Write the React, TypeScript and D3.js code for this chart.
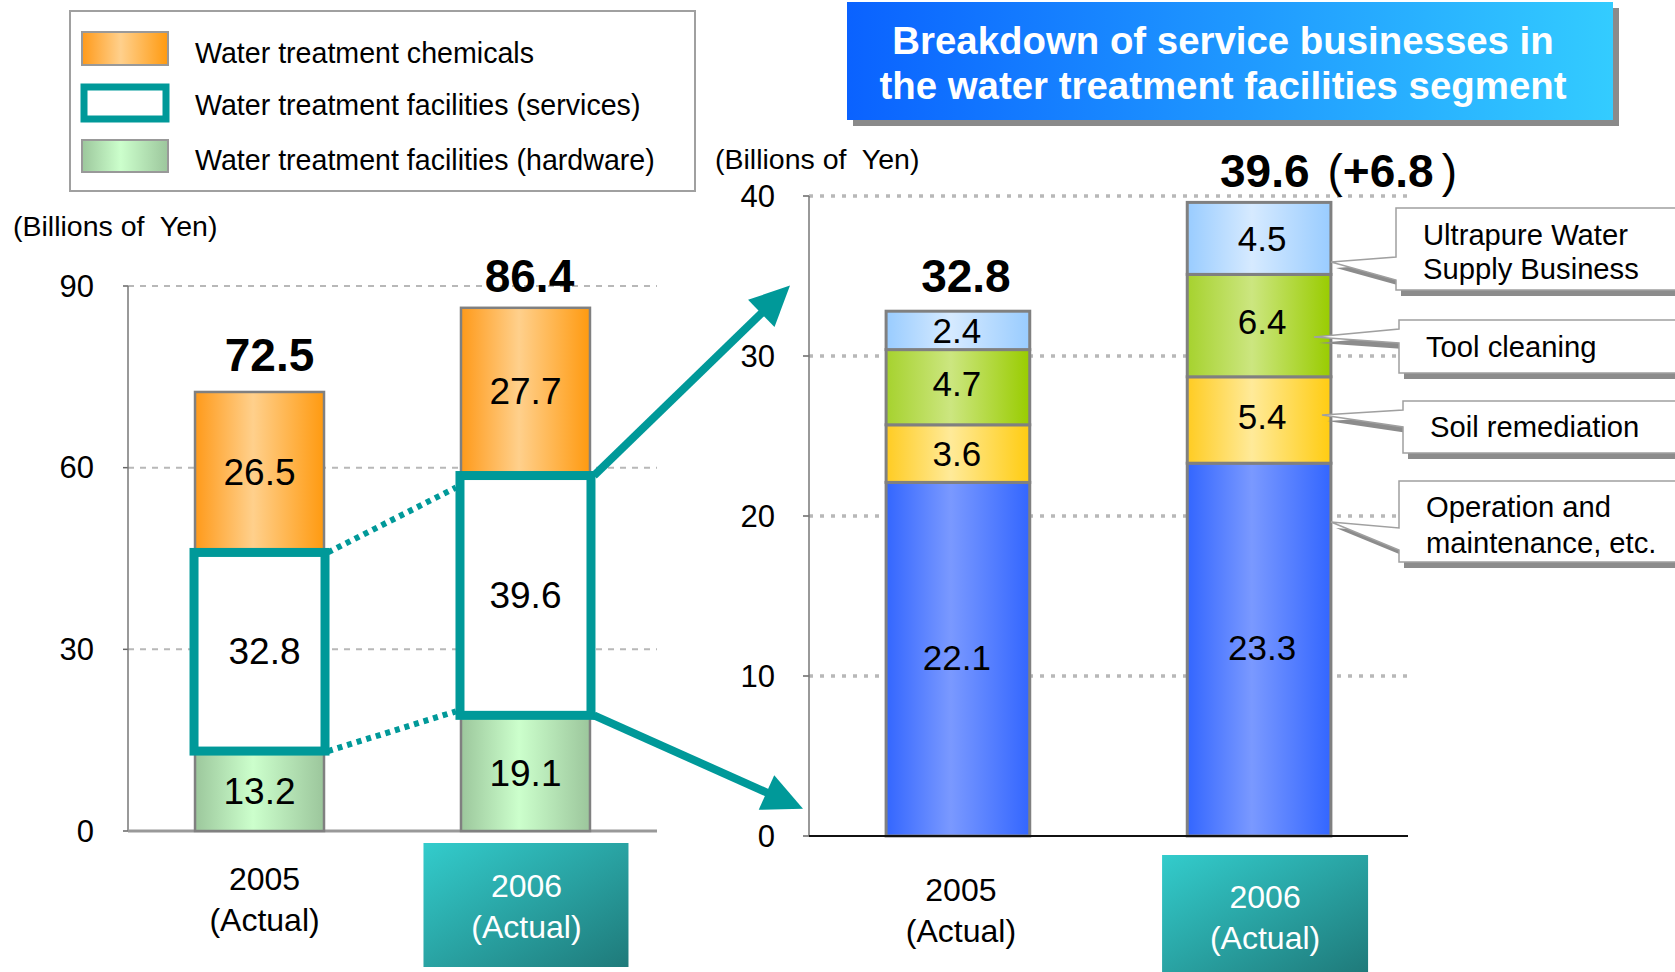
import * as d3 from "d3";

const years = ["2005", "2006"];
const yearNote = "(Actual)";

// left chart: water treatment segments
const hardware = [13.2, 19.1];
const services = [32.8, 39.6];
const chemicals = [26.5, 27.7];
const leftTicks = [0, 30, 60, 90];
const legendLabels = [
  "Water treatment chemicals",
  "Water treatment facilities (services)",
  "Water treatment facilities (hardware)",
];

// right chart: service businesses breakdown
const operation = [22.1, 23.3];
const soil = [3.6, 5.4];
const tool = [4.7, 6.4];
const ultrapure = [2.4, 4.5];
const rightTicks = [0, 10, 20, 30, 40];
const increase = "+6.8";
const calloutLabels = [
  ["Ultrapure Water", "Supply Business"],
  ["Tool cleaning"],
  ["Soil remediation"],
  ["Operation and", "maintenance, etc."],
];
const titleLines = [
  "Breakdown of service businesses in",
  "the water treatment facilities segment",
];
const unitLabel = "(Billions of  Yen)";

const FONT = "'Liberation Sans', Arial, sans-serif";
const TEAL = "#009999";

const leftTable = years.map((y, i) => ({
  year: y,
  hardware: hardware[i],
  services: services[i],
  chemicals: chemicals[i],
}));
const leftKeys = ["hardware", "services", "chemicals"];
const leftFill: Record<string, string> = {
  hardware: "url(#gHard)",
  services: "#ffffff",
  chemicals: "url(#gChem)",
};

const rightTable = years.map((y, i) => ({
  year: y,
  operation: operation[i],
  soil: soil[i],
  tool: tool[i],
  ultrapure: ultrapure[i],
}));
const rightKeys = ["operation", "soil", "tool", "ultrapure"];
const rightFill: Record<string, string> = {
  operation: "url(#gOper)",
  soil: "url(#gSoil)",
  tool: "url(#gTool)",
  ultrapure: "url(#gUltra)",
};

function Grad({ id, edge, mid, edge2 }: { id: string; edge: string; mid: string; edge2?: string }) {
  return (
    <linearGradient id={id} x1="0" y1="0" x2="1" y2="0">
      <stop offset="0" stopColor={edge} />
      <stop offset="0.45" stopColor={mid} />
      <stop offset="1" stopColor={edge2 || edge} />
    </linearGradient>
  );
}

function arrowShape(x1: number, y1: number, x2: number, y2: number) {
  const len = Math.hypot(x2 - x1, y2 - y1);
  const ux = (x2 - x1) / len;
  const uy = (y2 - y1) / len;
  const head = 40;
  const half = 19;
  const bx = x2 - ux * head;
  const by = y2 - uy * head;
  return {
    line: { x1, y1, x2: bx + ux * 4, y2: by + uy * 4 },
    head: `${x2},${y2} ${bx - uy * half},${by + ux * half} ${bx + uy * half},${by - ux * half}`,
  };
}

export default function App() {
  const fmt = d3.format(".1f");

  // left scales
  const xL = d3.scaleBand().domain(years).range([128, 657]).paddingInner(0.515).paddingOuter(0.252);
  const yL = d3.scaleLinear().domain([0, 90]).range([831, 286]);
  const bwL = xL.bandwidth();
  const leftStack = d3.stack<any>().keys(leftKeys)(leftTable);
  const leftTotals = leftTable.map((d) => d.hardware + d.services + d.chemicals);

  // right scales
  const xR = d3.scaleBand().domain(years).range([809, 1408]).paddingInner(0.523).paddingOuter(0.256);
  const yR = d3.scaleLinear().domain([0, 40]).range([836, 196]);
  const bwR = xR.bandwidth();
  const rightStack = d3.stack<any>().keys(rightKeys)(rightTable);
  const rightTotals = rightTable.map((d) => d.operation + d.soil + d.tool + d.ultrapure);

  const svcLayer = leftStack[1];
  const x05 = xL(years[0])!;
  const x06 = xL(years[1])!;

  const arrowUp = arrowShape(x06 + bwL + 4, yL(svcLayer[1][1]), xR.range()[0] - 19, yR(34.4));
  const arrowDown = arrowShape(x06 + bwL + 4, yL(svcLayer[1][0]), xR.range()[0] - 6, yR(1.7));

  // callout layout (annotation boxes to the right of the 2006 bar)
  const calloutBoxes = [
    { bx: 1396, top: 208, bottom: 290, wTop: 257, wBot: 280, tipX: 1331, tipY: 262, ty: [235, 269] },
    { bx: 1399, top: 320, bottom: 373, wTop: 329, wBot: 343, tipX: 1314, tipY: 337, ty: [347] },
    { bx: 1403, top: 401, bottom: 453, wTop: 410, wBot: 427, tipX: 1322, tipY: 415, ty: [427] },
    { bx: 1399, top: 481, bottom: 562, wTop: 528, wBot: 550, tipX: 1331, tipY: 522, ty: [507, 543] },
  ];
  const calloutPath = (c: any) =>
    `M${c.bx},${c.top} H1700 V${c.bottom} H${c.bx} V${c.wBot} L${c.tipX},${c.tipY} L${c.bx},${c.wTop} Z`;

  const labelNudge = (key: string, i: number) =>
    key === "tool" ? -4 : key === "soil" ? (i === 1 ? -4 : 0) : key === "operation" ? -2 : 0;

  return (
    <svg
      width={1675}
      height={972}
      style={{ position: "absolute", left: 0, top: 0, background: "#fff", fontFamily: FONT }}
    >
      <defs>
        <Grad id="gChem" edge="#ff9a1a" mid="#ffd08c" edge2="#ff9a10" />
        <Grad id="gHard" edge="#9cc79c" mid="#ccffcc" edge2="#9cc69c" />
        <Grad id="gOper" edge="#3366ff" mid="#7a99ff" edge2="#3366ff" />
        <Grad id="gSoil" edge="#ffcc22" mid="#ffea99" edge2="#ffcc11" />
        <Grad id="gTool" edge="#a6d22e" mid="#cce680" edge2="#99cc00" />
        <Grad id="gUltra" edge="#99ccff" mid="#d6eaff" edge2="#99ccff" />
        <linearGradient id="gTitle" x1="0" y1="0" x2="1" y2="0">
          <stop offset="0" stopColor="#0a62ff" />
          <stop offset="1" stopColor="#33ccff" />
        </linearGradient>
        <linearGradient id="gYear" x1="0" y1="0" x2="1" y2="1">
          <stop offset="0" stopColor="#33cccc" />
          <stop offset="1" stopColor="#1f7a7a" />
        </linearGradient>
      </defs>

      {/* legend */}
      <rect x={70} y={11} width={625} height={180} fill="#fff" stroke="#a0a0a0" strokeWidth={2} />
      <rect x={82} y={32} width={86} height={33} fill="url(#gChem)" stroke="#999" strokeWidth={2} />
      <rect x={84} y={87} width={82} height={32} fill="#fff" stroke={TEAL} strokeWidth={7} />
      <rect x={82} y={140} width={86} height={32} fill="url(#gHard)" stroke="#999" strokeWidth={2} />
      {legendLabels.map((t, i) => (
        <text key={t} x={195} y={[53, 105, 160][i]} fontSize={28.6} dominantBaseline="central" fill="#000">
          {t}
        </text>
      ))}

      {/* title box */}
      <rect x={853} y={8} width={766} height={118} fill="#8a8a8a" />
      <rect x={847} y={2} width={766} height={118} fill="url(#gTitle)" />
      {titleLines.map((t, i) => (
        <text
          key={t}
          x={1223}
          y={[40, 85][i]}
          fontSize={38.4}
          fontWeight="bold"
          fill="#fff"
          textAnchor="middle"
          dominantBaseline="central"
        >
          {t}
        </text>
      ))}

      {/* ---------- left chart ---------- */}
      <text x={13} y={226} fontSize={28.5} dominantBaseline="central" style={{ whiteSpace: "pre" }}>
        {unitLabel}
      </text>
      {leftTicks.map((t) => (
        <g key={t}>
          {t > 0 && (
            <line x1={128} x2={657} y1={yL(t)} y2={yL(t)} stroke="#b8b8b8" strokeWidth={2} strokeDasharray="6 6" />
          )}
          <line x1={123} x2={128} y1={yL(t)} y2={yL(t)} stroke="#666" strokeWidth={1.5} />
          <text x={94} y={yL(t)} fontSize={31} textAnchor="end" dominantBaseline="central">
            {t}
          </text>
        </g>
      ))}
      <line x1={128} x2={128} y1={yL(90)} y2={yL(0)} stroke="#777" strokeWidth={1.5} />
      <line x1={128} x2={657} y1={yL(0)} y2={yL(0)} stroke="#999" strokeWidth={3} />

      {leftStack.map((layer) =>
        layer.map((d, i) => (
          <rect
            key={layer.key + i}
            x={xL(years[i])}
            y={yL(d[1])}
            width={bwL}
            height={yL(d[0]) - yL(d[1])}
            fill={leftFill[layer.key]}
            stroke="#808080"
            strokeWidth={2.5}
          />
        ))
      )}
      {svcLayer.map((d, i) => (
        <rect
          key={"svc" + i}
          x={xL(years[i])! - 1}
          y={yL(d[1])}
          width={bwL + 2}
          height={yL(d[0]) - yL(d[1])}
          fill="none"
          stroke={TEAL}
          strokeWidth={9}
        />
      ))}
      {/* dotted connectors */}
      <line x1={x05 + bwL + 4} y1={yL(svcLayer[0][1])} x2={x06 - 5} y2={yL(svcLayer[1][1]) + 12} stroke={TEAL} strokeWidth={6} strokeDasharray="5 5" />
      <line x1={x05 + bwL + 4} y1={yL(svcLayer[0][0])} x2={x06 - 5} y2={yL(svcLayer[1][0]) - 4} stroke={TEAL} strokeWidth={6} strokeDasharray="5 5" />

      {leftStack.map((layer) =>
        layer.map((d, i) => (
          <text
            key={"lv" + layer.key + i}
            x={xL(years[i])! + bwL / 2 + (layer.key === "services" && i === 0 ? 5 : 0)}
            y={yL((d[0] + d[1]) / 2)}
            fontSize={37}
            textAnchor="middle"
            dominantBaseline="central"
          >
            {fmt(d[1] - d[0])}
          </text>
        ))
      )}
      {leftTotals.map((t, i) => (
        <text
          key={"lt" + i}
          x={xL(years[i])! + bwL / 2 + (i === 0 ? 10 : 4)}
          y={yL(t) - (i === 0 ? 21 : 16)}
          fontSize={46}
          fontWeight="bold"
          textAnchor="middle"
        >
          {fmt(t)}
        </text>
      ))}

      {/* left category labels */}
      <rect x={xL(years[1])! + bwL / 2 - 102} y={843} width={205} height={124} fill="url(#gYear)" />
      {years.map((y, i) => {
        const cx = xL(y)! + bwL / 2 + (i === 0 ? 5 : 1);
        const fill = i === 1 ? "#fff" : "#000";
        const base = i === 1 ? 886 : 879;
        return (
          <g key={"lc" + y}>
            <text x={cx} y={base} fontSize={32} fill={fill} textAnchor="middle" dominantBaseline="central">
              {y}
            </text>
            <text x={cx} y={base + 41} fontSize={32} fill={fill} textAnchor="middle" dominantBaseline="central">
              {yearNote}
            </text>
          </g>
        );
      })}

      {/* arrows */}
      {[arrowUp, arrowDown].map((a, i) => (
        <g key={"ar" + i}>
          <line {...a.line} stroke={TEAL} strokeWidth={8} />
          <polygon points={a.head} fill={TEAL} />
        </g>
      ))}

      {/* ---------- right chart ---------- */}
      <text x={715} y={159} fontSize={28.5} dominantBaseline="central" style={{ whiteSpace: "pre" }}>
        {unitLabel}
      </text>
      {rightTicks.map((t) => (
        <g key={"r" + t}>
          {t > 0 && (
            <line x1={809} x2={1408} y1={yR(t)} y2={yR(t)} stroke="#b8b8b8" strokeWidth={3.5} strokeDasharray="4 7" />
          )}
          <line x1={803} x2={809} y1={yR(t)} y2={yR(t)} stroke="#666" strokeWidth={1.5} />
          <text x={775} y={yR(t)} fontSize={31} textAnchor="end" dominantBaseline="central">
            {t}
          </text>
        </g>
      ))}
      <line x1={809} x2={809} y1={yR(40)} y2={yR(0)} stroke="#777" strokeWidth={1.5} />

      {rightStack.map((layer) =>
        layer.map((d, i) => (
          <rect
            key={"rr" + layer.key + i}
            x={xR(years[i])}
            y={yR(d[1])}
            width={bwR}
            height={yR(d[0]) - yR(d[1])}
            fill={rightFill[layer.key]}
            stroke="#808080"
            strokeWidth={3}
          />
        ))
      )}
      <line x1={809} x2={1408} y1={yR(0)} y2={yR(0)} stroke="#111" strokeWidth={2} />

      {rightStack.map((layer) =>
        layer.map((d, i) => (
          <text
            key={"rv" + layer.key + i}
            x={xR(years[i])! + bwR / 2 + (i === 0 ? -1 : 3)}
            y={yR((d[0] + d[1]) / 2) + labelNudge(layer.key, i)}
            fontSize={35}
            textAnchor="middle"
            dominantBaseline="central"
          >
            {fmt(d[1] - d[0])}
          </text>
        ))
      )}
      <text
        x={xR(years[0])! + bwR / 2 + 8}
        y={yR(rightTotals[0]) - 19}
        fontSize={46}
        fontWeight="bold"
        textAnchor="middle"
      >
        {fmt(rightTotals[0])}
      </text>
      <text x={1220} y={yR(rightTotals[1]) - 15} fontSize={46} fontWeight="bold">
        {fmt(rightTotals[1])}
        <tspan dx={18} fontWeight="normal">(</tspan>
        <tspan fontWeight="bold">{increase}</tspan>
        <tspan dx={8} fontWeight="normal">)</tspan>
      </text>

      {/* callouts */}
      {calloutBoxes.map((c, i) => (
        <g key={"co" + i}>
          <path d={calloutPath(c)} transform="translate(5,6)" fill="#8c8c8c" />
          <path d={calloutPath(c)} fill="#fff" stroke="#a0a0a0" strokeWidth={1.5} />
          {calloutLabels[i].map((t, j) => (
            <text key={t} x={c.bx + 27} y={c.ty[j]} fontSize={29.2} dominantBaseline="central">
              {t}
            </text>
          ))}
        </g>
      ))}

      {/* right category labels */}
      <rect x={xR(years[1])! + bwR / 2 - 97} y={855} width={206} height={117} fill="url(#gYear)" />
      {years.map((y, i) => {
        const cx = xR(y)! + bwR / 2 + (i === 0 ? 3 : 6);
        const fill = i === 1 ? "#fff" : "#000";
        const base = i === 1 ? 897 : 890;
        return (
          <g key={"rc" + y}>
            <text x={cx} y={base} fontSize={32} fill={fill} textAnchor="middle" dominantBaseline="central">
              {y}
            </text>
            <text x={cx} y={base + 41} fontSize={32} fill={fill} textAnchor="middle" dominantBaseline="central">
              {yearNote}
            </text>
          </g>
        );
      })}
    </svg>
  );
}
